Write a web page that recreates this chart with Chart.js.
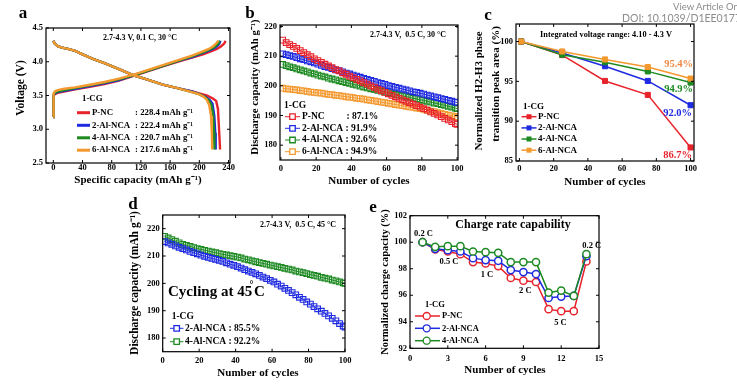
<!DOCTYPE html>
<html>
<head>
<meta charset="utf-8">
<script src="https://cdn.jsdelivr.net/npm/chart.js@4.4.1/dist/chart.umd.min.js"></script>
<style>
  html, body { margin: 0; padding: 0; background: #fff; }
  #wrap { position: relative; width: 737px; height: 385px; overflow: hidden; }
  #wrap canvas { position: absolute; left: 0; top: 0; }
  .doi { position: absolute; font-family: Lato, "Open Sans", sans-serif; color: #8c8c8c; white-space: nowrap; line-height: 1; }
</style>
</head>
<body>
<div id="wrap">
  <canvas id="ca" width="737" height="385"></canvas>
  <canvas id="cb" width="737" height="385"></canvas>
  <canvas id="cc" width="737" height="385"></canvas>
  <canvas id="cd" width="737" height="385"></canvas>
  <canvas id="ce" width="737" height="385"></canvas>
  <div class="doi" style="left:673px;top:2px;font-size:9.5px">View Article Online</div>
  <div class="doi" style="left:622px;top:13px;font-size:10.5px">DOI: 10.1039/D1EE01773J</div>
</div>
<script>
const RED = '#e8232b', BLUE = '#1f2be0', GREEN = '#1d8a22', ORANGE = '#f4992f';
const SERIF = '"Liberation Serif", "Times New Roman", serif';
const SUP = 'g\u207B\u00B9';

// ---- panel a : voltage profiles (capacity, voltage) ----
const chargePNC = [[0,3.18],[0.2,3.4],[0.6,3.49],[2,3.52],[6,3.54],[15,3.56],[30,3.59],[50,3.63],[70,3.67],[90,3.72],[110,3.79],[130,3.86],[150,3.93],[170,4.0],[190,4.06],[205,4.11],[215,4.15],[224,4.19],[230,4.23],[234,4.27],[236,4.31]];
const charge2Al = [[0,3.18],[0.2,3.4],[0.6,3.5],[2,3.53],[6,3.55],[15,3.57],[30,3.6],[50,3.64],[70,3.68],[90,3.73],[110,3.8],[130,3.87],[150,3.94],[170,4.01],[190,4.07],[205,4.13],[215,4.17],[222,4.21],[227,4.26],[229,4.31]];
const charge4Al = [[0,3.18],[0.2,3.42],[0.6,3.51],[2,3.54],[6,3.56],[15,3.58],[30,3.61],[50,3.65],[70,3.69],[90,3.74],[110,3.8],[130,3.87],[150,3.94],[170,4.01],[190,4.08],[205,4.14],[214,4.18],[221,4.22],[226,4.27],[228,4.31]];
const charge6Al = [[0,3.18],[0.2,3.45],[0.6,3.53],[2,3.56],[6,3.58],[15,3.6],[30,3.62],[50,3.66],[70,3.7],[90,3.75],[110,3.81],[130,3.88],[150,3.95],[170,4.02],[190,4.09],[204,4.15],[213,4.19],[219,4.23],[223,4.27],[226,4.31]];
const dischPNC = [[0,4.31],[2,4.27],[6,4.23],[12,4.21],[20,4.19],[30,4.16],[40,4.11],[55,4.04],[70,3.98],[90,3.89],[110,3.8],[130,3.73],[150,3.66],[170,3.61],[190,3.56],[200,3.53],[210,3.5],[218,3.46],[223,3.42],[225.5,3.3],[227,3.0],[228.4,2.7]];
const disch2Al = [[0,4.31],[2,4.27],[6,4.23],[12,4.21],[20,4.19],[30,4.16],[40,4.11],[55,4.04],[70,3.98],[90,3.89],[110,3.8],[130,3.73],[150,3.66],[170,3.61],[190,3.56],[200,3.52],[208,3.48],[214,3.44],[218,3.38],[220.5,3.2],[221.8,2.95],[222.4,2.7]];
const disch4Al = [[0,4.31],[2,4.27],[6,4.23],[12,4.21],[20,4.19],[30,4.16],[40,4.11],[55,4.04],[70,3.98],[90,3.89],[110,3.8],[130,3.73],[150,3.66],[170,3.61],[190,3.55],[200,3.52],[207,3.48],[213,3.43],[216.5,3.36],[219,3.2],[220.2,2.95],[220.7,2.7]];
const disch6Al = [[0,4.31],[2,4.27],[6,4.23],[12,4.21],[20,4.19],[30,4.16],[40,4.11],[55,4.04],[70,3.98],[90,3.89],[110,3.8],[130,3.73],[150,3.66],[170,3.61],[190,3.55],[199,3.52],[205,3.49],[210,3.44],[213.5,3.36],[216,3.2],[217.1,2.95],[217.6,2.7]];
const capTicksA = [0, 40, 80, 120, 160, 200, 240];
const voltTicksA = [2.5, 3.0, 3.5, 4.0, 4.5];

// ---- panels b, d : cycling ----
const cycles = [1,3,5,7,9,11,13,15,17,19,21,23,25,27,29,31,33,35,37,39,41,43,45,47,49,51,53,55,57,59,61,63,65,67,69,71,73,75,77,79,81,83,85,87,89,91,93,95,97,99,100];
const pncB = [215.4,214.6,213.9,213.3,212.6,211.9,211.2,210.5,209.8,209.1,208.5,207.9,207.3,206.7,206.1,205.5,205.0,204.4,203.9,203.3,202.8,202.2,201.7,201.1,200.6,200.0,199.5,198.9,198.4,197.8,197.3,196.8,196.3,195.8,195.3,194.8,194.3,193.8,193.3,192.8,192.3,191.8,191.2,190.7,190.2,189.6,189.0,188.5,187.9,187.3,187.0];
const al2B = [210.8,210.5,210.2,209.9,209.5,209.1,208.8,208.4,208.1,207.7,207.3,206.9,206.5,206.2,205.8,205.4,205.1,204.7,204.3,204.0,203.6,203.3,202.9,202.5,202.2,201.8,201.5,201.1,200.8,200.5,200.1,199.8,199.5,199.2,198.9,198.6,198.3,198.0,197.8,197.5,197.2,196.9,196.6,196.3,196.0,195.7,195.4,195.1,194.8,194.5,194.4];
const al4B = [207.2,206.8,206.4,206.1,205.7,205.4,205.0,204.7,204.3,204.0,203.6,203.3,203.0,202.6,202.3,202.0,201.7,201.4,201.1,200.8,200.5,200.2,199.9,199.6,199.3,199.0,198.8,198.5,198.2,197.9,197.7,197.4,197.1,196.9,196.6,196.4,196.1,195.8,195.6,195.3,195.1,194.8,194.5,194.2,194.0,193.7,193.4,193.1,192.8,192.5,192.3];
const al6B = [199.2,199.0,198.9,198.7,198.6,198.4,198.3,198.1,197.9,197.8,197.6,197.5,197.3,197.1,197.0,196.8,196.7,196.5,196.3,196.2,196.0,195.8,195.7,195.5,195.3,195.1,194.9,194.7,194.5,194.3,194.1,193.9,193.7,193.5,193.3,193.1,192.9,192.7,192.5,192.3,192.1,191.8,191.5,191.3,191.0,190.7,190.4,190.1,189.9,189.6,189.5];
const al2D = [215.3,214.8,214.3,213.7,213.2,212.7,212.2,211.7,211.2,210.8,210.3,209.9,209.5,209.1,208.8,208.4,208.0,207.5,207.0,206.6,206.1,205.6,205.0,204.5,204.0,203.5,202.9,202.3,201.7,201.1,200.5,199.7,199.0,198.2,197.4,196.6,195.8,194.9,194.1,193.2,192.4,191.5,190.7,189.8,189.0,188.1,187.2,186.3,185.3,184.4,184.0];
const al4D = [217.2,216.6,216.0,215.4,214.8,214.3,213.9,213.5,213.1,212.7,212.4,212.1,211.8,211.5,211.2,210.9,210.6,210.4,210.1,209.9,209.6,209.3,208.9,208.6,208.2,207.9,207.6,207.3,207.0,206.7,206.4,206.1,205.8,205.5,205.2,204.9,204.5,204.2,203.9,203.6,203.2,202.9,202.6,202.2,201.9,201.6,201.2,200.9,200.5,200.2,200.0];
const cycleTicks = [0, 20, 40, 60, 80, 100];
const capTicksBD = [180, 190, 200, 210, 220];

// ---- panel c : H2-H3 peak area ----
const cyclesC = [1, 25, 50, 75, 100];
const pncC = [100, 98.3, 95.05, 93.3, 86.7];
const al2C = [100, 98.55, 96.9, 95.05, 92.0];
const al4C = [100, 98.35, 97.4, 96.25, 94.85];
const al6C = [100, 98.75, 97.75, 96.8, 95.35];
const areaTicksC = [85, 90, 95, 100];

// ---- panel e : charge rate capability ----
const cyclesE = [1, 2, 3, 4, 5, 6, 7, 8, 9, 10, 11, 12, 13, 14];
const pncE = [100, 99.45, 99.3, 99.1, 98.5, 98.4, 98.2, 97.3, 97.1, 97.0, 94.95, 94.8, 94.8, 98.55];
const al2E = [100, 99.5, 99.4, 99.3, 98.8, 98.65, 98.6, 97.9, 97.75, 97.6, 95.8, 95.9, 95.95, 98.95];
const al4E = [100, 99.65, 99.7, 99.7, 99.3, 99.25, 99.2, 98.5, 98.5, 98.5, 96.2, 96.35, 95.95, 99.1];
const cycleTicksE = [0, 3, 6, 9, 12, 15];
const capTicksE = [92, 94, 96, 98, 100, 102];

Chart.defaults.font.family = SERIF;
Chart.defaults.color = '#000';

function drawText(ctx, t) {
  ctx.save();
  ctx.font = 'bold ' + t.size + 'px ' + SERIF;
  ctx.fillStyle = t.color || '#000';
  ctx.textAlign = t.align || 'center';
  ctx.textBaseline = 'middle';
  ctx.translate(t.x, t.y);
  if (t.rot) ctx.rotate(-Math.PI / 2);
  ctx.fillText(t.text, 0, 0);
  ctx.restore();
}

function drawMarker(ctx, style, x, y, s, color) {
  ctx.save();
  ctx.strokeStyle = color; ctx.fillStyle = color; ctx.lineWidth = 1.3;
  ctx.beginPath();
  if (style === 'circle') ctx.arc(x, y, s / 2, 0, Math.PI * 2);
  else ctx.rect(x - s / 2, y - s / 2, s, s);
  if (style === 'rectFill') ctx.fill();
  else { ctx.fillStyle = '#fff'; ctx.fill(); ctx.stroke(); }
  ctx.restore();
}

function drawLegend(ctx, L) {
  drawText(ctx, { text: '1-CG', x: L.x, y: L.hy, size: L.hsize || L.size, align: 'left' });
  L.items.forEach((it, i) => {
    const y = L.rows[i];
    ctx.save();
    ctx.strokeStyle = it.color; ctx.lineWidth = L.lw;
    ctx.beginPath(); ctx.moveTo(L.lx0, y); ctx.lineTo(L.lx1, y); ctx.stroke();
    ctx.restore();
    if (L.marker) drawMarker(ctx, L.marker, L.mx, y, L.ms, it.color);
    drawText(ctx, { text: it.label, x: L.tx, y: y, size: L.size, align: 'left' });
    if (it.value) drawText(ctx, { text: it.value, x: it.vx || L.vx, y: y, size: L.size, align: 'left' });
  });
}

const decor = {
  id: 'decor',
  afterDraw(chart, args, o) {
    const ctx = chart.ctx, a = chart.chartArea;
    const xs = chart.scales.x, ys = chart.scales.y;
    ctx.save();
    ctx.strokeStyle = '#000';
    ctx.lineWidth = 1.2;
    ctx.strokeRect(a.left, a.top, a.right - a.left, a.bottom - a.top);
    ctx.lineWidth = 1;
    ctx.beginPath();
    xs.ticks.forEach(t => {
      const p = xs.getPixelForValue(t.value);
      ctx.moveTo(p, a.bottom); ctx.lineTo(p, a.bottom - 3);
      ctx.moveTo(p, a.top); ctx.lineTo(p, a.top + 3);
    });
    ys.ticks.forEach(t => {
      const p = ys.getPixelForValue(t.value);
      ctx.moveTo(a.left, p); ctx.lineTo(a.left + 3, p);
      ctx.moveTo(a.right, p); ctx.lineTo(a.right - 3, p);
    });
    ctx.stroke();
    ctx.restore();
    (o.texts || []).forEach(t => drawText(ctx, t));
    if (o.legend) drawLegend(ctx, o.legend);
  }
};

function makeChart(id, area, xo, yo, datasets, decorOpts) {
  return new Chart(document.getElementById(id), {
    type: 'line',
    data: { datasets },
    options: {
      responsive: false,
      animation: false,
      events: [],
      layout: { padding: { left: area.l - 30, top: area.t, right: 737 - area.r, bottom: 385 - area.b - 20 } },
      plugins: { legend: { display: false }, tooltip: { enabled: false }, decor: decorOpts },
      scales: {
        x: {
          type: 'linear', min: xo.min, max: xo.max,
          grid: { display: false, drawTicks: false }, border: { display: false },
          afterFit: s => { s.height = 20; },
          afterBuildTicks: s => { s.ticks = xo.ticks.map(v => ({ value: v })); },
          ticks: { autoSkip: false, maxRotation: 0, padding: xo.pad, color: '#000',
                   font: { size: 8.5, weight: 'bold' }, callback: v => String(v) }
        },
        y: {
          type: 'linear', min: yo.min, max: yo.max,
          grid: { display: false, drawTicks: false }, border: { display: false },
          afterFit: s => { s.width = 30; },
          afterBuildTicks: s => { s.ticks = yo.ticks.map(v => ({ value: v })); },
          ticks: { autoSkip: false, padding: 3, color: '#000',
                   font: { size: 8.5, weight: 'bold' }, callback: yo.fmt || (v => String(v)) }
        }
      }
    },
    plugins: [decor]
  });
}

const pairs = arr => arr.map(p => ({ x: p[0], y: p[1] }));
const zip = (xs, ys) => xs.map((x, i) => ({ x: x, y: ys[i] }));

// ---- a ----
const lineA = (data, color, order) => ({ data: pairs(data), borderColor: color, borderWidth: 2.4, pointRadius: 0, tension: 0, order: order });
makeChart('ca', { l: 46, t: 28, r: 230, b: 163 },
  { min: -10, max: 242, ticks: capTicksA, pad: 0 },
  { min: 2.5, max: 4.5, ticks: voltTicksA, fmt: v => v.toFixed(1) },
  [lineA(chargePNC, RED, 4), lineA(dischPNC, RED, 4),
   lineA(charge2Al, BLUE, 3), lineA(disch2Al, BLUE, 3),
   lineA(charge4Al, GREEN, 2), lineA(disch4Al, GREEN, 2),
   lineA(charge6Al, ORANGE, 1), lineA(disch6Al, ORANGE, 1)],
  {
    texts: [
      { text: 'a', x: 23, y: 14, size: 17 },
      { text: '2.7-4.3 V, 0.1 C, 30 \u00B0C', x: 140, y: 38, size: 8 },
      { text: 'Voltage (V)', x: 21, y: 88, size: 11.5, rot: true },
      { text: 'Specific capacity (mAh ' + SUP + ')', x: 138, y: 180, size: 11 }
    ],
    legend: {
      x: 82, hy: 99, size: 8.8, rows: [112.7, 125.3, 137.8, 150.2], lw: 3, lx0: 77, lx1: 90, tx: 92, vx: 135,
      items: [
        { label: 'P-NC', value: ': 228.4 mAh ' + SUP, color: RED },
        { label: '2-Al-NCA', value: ': 222.4 mAh ' + SUP, color: BLUE },
        { label: '4-Al-NCA', value: ': 220.7 mAh ' + SUP, color: GREEN },
        { label: '6-Al-NCA', value: ': 217.6 mAh ' + SUP, color: ORANGE }
      ]
    }
  });

// ---- b ----
const sqOpen = (xs, ys, color, order) => ({ data: zip(xs, ys), borderColor: color, borderWidth: 1, pointStyle: 'rect',
  pointRadius: 4, pointBorderWidth: 1.1, pointBorderColor: color, pointBackgroundColor: 'rgba(255,255,255,0)', order: order });
makeChart('cb', { l: 280, t: 25, r: 458, b: 160 },
  { min: -0.5, max: 100.5, ticks: cycleTicks, pad: 3.5 },
  { min: 175, max: 220.5, ticks: capTicksBD },
  [sqOpen(cycles, al6B, ORANGE, 4), sqOpen(cycles, al4B, GREEN, 3), sqOpen(cycles, al2B, BLUE, 2), sqOpen(cycles, pncB, RED, 1)],
  {
    texts: [
      { text: 'b', x: 250, y: 14, size: 17 },
      { text: '2.7-4.3 V,  0.5 C, 30 \u00B0C', x: 408, y: 35, size: 8 },
      { text: 'Discharge capacity (mAh ' + SUP + ')', x: 255, y: 87, size: 10.8, rot: true },
      { text: 'Number of cycles', x: 369, y: 181, size: 11 }
    ],
    legend: {
      x: 284, hy: 106, size: 9.5, rows: [116.7, 128.3, 140, 151.7], lw: 1, lx0: 285, lx1: 300, mx: 292.5, ms: 5.5, marker: 'rect', tx: 302,
      items: [
        { label: 'P-NC', value: ': 87.1%', vx: 346.5, color: RED },
        { label: '2-Al-NCA : 91.9%', color: BLUE },
        { label: '4-Al-NCA : 92.6%', color: GREEN },
        { label: '6-Al-NCA : 94.9%', color: ORANGE }
      ]
    }
  });

// ---- c ----
const sqFill = (xs, ys, color, order) => ({ data: zip(xs, ys), borderColor: color, borderWidth: 1.5, pointStyle: 'rect',
  pointRadius: 3.6, pointBorderWidth: 1, pointBorderColor: color, pointBackgroundColor: color, order: order });
makeChart('cc', { l: 516, t: 24, r: 694, b: 161 },
  { min: -2, max: 102, ticks: cycleTicks, pad: 2.5 },
  { min: 85, max: 102.2, ticks: areaTicksC },
  [sqFill(cyclesC, pncC, RED, 4), sqFill(cyclesC, al2C, BLUE, 3), sqFill(cyclesC, al4C, GREEN, 2), sqFill(cyclesC, al6C, ORANGE, 1)],
  {
    texts: [
      { text: 'c', x: 488, y: 16, size: 17 },
      { text: 'Integrated voltage range: 4.10 - 4.3 V', x: 606, y: 34.5, size: 8.3 },
      { text: 'Normalized H2-H3 phase', x: 479, y: 91, size: 11, rot: true },
      { text: 'transition peak area (%)', x: 496, y: 84, size: 11, rot: true },
      { text: 'Number of cycles', x: 605, y: 182, size: 11 },
      { text: '95.4%', x: 693, y: 64.5, size: 10.5, align: 'right', color: '#ee8a45' },
      { text: '94.9%', x: 693, y: 89.5, size: 10.5, align: 'right', color: GREEN },
      { text: '92.0%', x: 692, y: 113.5, size: 10.5, align: 'right', color: BLUE },
      { text: '86.7%', x: 692, y: 155, size: 10.5, align: 'right', color: RED }
    ],
    legend: {
      x: 523, hy: 107, size: 9, rows: [116.7, 127.9, 139, 150.2], lw: 1.5, lx0: 521.5, lx1: 536.5, mx: 529, ms: 5, marker: 'rectFill', tx: 538,
      items: [
        { label: 'P-NC', color: RED },
        { label: '2-Al-NCA', color: BLUE },
        { label: '4-Al-NCA', color: GREEN },
        { label: '6-Al-NCA', color: ORANGE }
      ]
    }
  });

// ---- d ----
makeChart('cd', { l: 162.7, t: 215, r: 345, b: 351.7 },
  { min: 0, max: 100, ticks: cycleTicks, pad: 3.5 },
  { min: 175, max: 225, ticks: capTicksBD },
  [sqOpen(cycles, al4D, GREEN, 2), sqOpen(cycles, al2D, BLUE, 1)],
  {
    texts: [
      { text: 'd', x: 133, y: 205, size: 17 },
      { text: '2.7-4.3 V,  0.5 C, 45 \u00B0C', x: 298, y: 224.5, size: 8 },
      { text: 'Discharge capacity (mAh ' + SUP + ')', x: 135, y: 283, size: 11.5, rot: true },
      { text: 'Number of cycles', x: 258, y: 373, size: 11 },
      { text: 'Cycling at 45', x: 168, y: 292, size: 15, align: 'left' },
      { text: '\u00B0', x: 249.5, y: 285, size: 10, align: 'left' },
      { text: 'C', x: 254, y: 292, size: 15, align: 'left' }
    ],
    legend: {
      x: 171.7, hy: 316.7, size: 9.5, rows: [328.3, 341.7], lw: 1, lx0: 170, lx1: 183.5, mx: 176.7, ms: 5.5, marker: 'rect', tx: 185,
      items: [
        { label: '2-Al-NCA : 85.5%', color: BLUE },
        { label: '4-Al-NCA : 92.2%', color: GREEN }
      ]
    }
  });

// ---- e ----
const circ = (xs, ys, color, order) => ({ data: zip(xs, ys), borderColor: color, borderWidth: 1.5, pointStyle: 'circle',
  pointRadius: 3.6, pointBorderWidth: 1.5, pointBorderColor: color, pointBackgroundColor: '#fff', order: order });
makeChart('ce', { l: 410, t: 215.7, r: 599, b: 348.3 },
  { min: 0, max: 15, ticks: cycleTicksE, pad: 5 },
  { min: 92, max: 102, ticks: capTicksE },
  [circ(cyclesE, pncE, RED, 3), circ(cyclesE, al2E, BLUE, 2), circ(cyclesE, al4E, GREEN, 1)],
  {
    texts: [
      { text: 'e', x: 373, y: 208, size: 17 },
      { text: 'Charge rate capability', x: 513, y: 225, size: 12 },
      { text: 'Normalized charge capacity (%)', x: 385, y: 282, size: 10.5, rot: true },
      { text: 'Number of cycles', x: 505, y: 370, size: 11 },
      { text: '0.2 C', x: 423.5, y: 233.3, size: 8.5 },
      { text: '0.5 C', x: 449, y: 261.7, size: 8.5 },
      { text: '1 C', x: 487, y: 275, size: 8.5 },
      { text: '2 C', x: 525.3, y: 290.7, size: 8.5 },
      { text: '5 C', x: 560.5, y: 322.7, size: 8.5 },
      { text: '0.2 C', x: 591.7, y: 246, size: 8.5 }
    ],
    legend: {
      x: 425, hy: 305, size: 8.5, rows: [316, 328.3, 340.7], lw: 1.5, lx0: 415, lx1: 440, mx: 426.7, ms: 7, marker: 'circle', tx: 442,
      items: [
        { label: 'P-NC', color: RED },
        { label: '2-Al-NCA', color: BLUE },
        { label: '4-Al-NCA', color: GREEN }
      ]
    }
  });
</script>
</body>
</html>
